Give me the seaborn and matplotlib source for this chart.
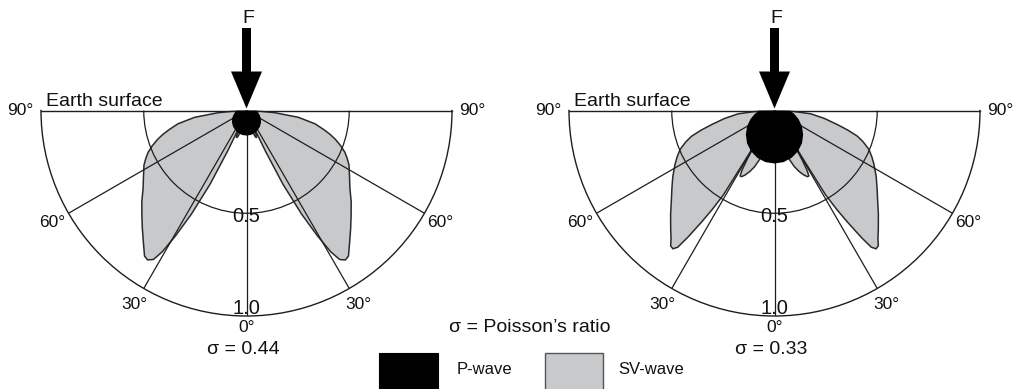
import numpy as np
import matplotlib
matplotlib.use("Agg")
import matplotlib.pyplot as plt
from matplotlib.patches import FancyArrow, Rectangle
import seaborn as sns

# Radiation patterns of a vertical point force on the surface of a half-space.
# Each pattern is given for one side (angle from the downward vertical, degrees)
# and mirrored about 0°. Radii are relative amplitudes (outer arc = 1.0).
theta_sv_044 = [0, 6, 12, 16, 18.5, 20.5, 22, 23, 23.6, 24.2, 25, 26.3, 28, 29.5,
                30.8, 32, 33.5, 35, 38, 41.5, 45, 49, 53, 57, 62, 64.5, 67, 69.5,
                72, 74, 76, 79, 82.5, 85.5, 88, 90]
sv_044 = [0, 0.03, 0.07, 0.11, 0.135, 0.14, 0.12, 0.06, 0.0, 0.12, 0.22, 0.40,
          0.57, 0.70, 0.80, 0.855, 0.872, 0.865, 0.815, 0.765, 0.72, 0.675, 0.63,
          0.598, 0.565, 0.543, 0.52, 0.489, 0.455, 0.424, 0.39, 0.34, 0.255, 0.14,
          0.05, 0.0]

theta_sv_033 = [0, 8, 14, 17, 19.5, 22, 24.5, 26.5, 27.7, 28.6, 29.3, 29.8, 30.1,
                30.4, 31.2, 32.2, 33.2, 34.4, 35.3, 36.3, 37.5, 39, 41, 45, 49, 53,
                57, 61.5, 64.5, 67.6, 70.5, 72.8, 75, 77.4, 81, 84.8, 88, 90]
sv_033 = [0, 0.10, 0.20, 0.25, 0.29, 0.32, 0.345, 0.36, 0.36, 0.33, 0.27, 0.15,
          0.0, 0.25, 0.48, 0.57, 0.65, 0.75, 0.815, 0.835, 0.83, 0.80, 0.77, 0.715,
          0.665, 0.625, 0.59, 0.551, 0.525, 0.497, 0.458, 0.422, 0.37, 0.313, 0.245,
          0.177, 0.08, 0.0]

theta_p = [0, 10, 20, 30, 40, 50, 60, 70, 80, 90]
p_044 = [0.122, 0.121, 0.117, 0.110, 0.102, 0.092, 0.081, 0.069, 0.058, 0.048]
p_033 = [0.258, 0.255, 0.245, 0.229, 0.208, 0.182, 0.154, 0.125, 0.098, 0.075]

sigma_values = [0.44, 0.33]
angle_ticks = [-90, -60, -30, 0, 30, 60, 90]
radius_ticks = [0.5, 1.0]
legend_labels = ["P-wave", "SV-wave"]

SV_FILL = "#c8c9cb"
LINE = "#1e1e1e"

sns.set_theme(style="white")
plt.rcParams["font.family"] = ["Liberation Sans", "DejaVu Sans"]

W, H = 1018, 389
fig = plt.figure(figsize=(W / 100, H / 100), dpi=100)
fig.patch.set_facecolor("white")

R = 205.5        # outer radius in pixels
SURF = 110.5     # pixel row of the surface line
centers = [246.5, 774.5]


def mirrored(theta, r):
    t = np.asarray(theta, float)
    v = np.asarray(r, float)
    full_t = np.concatenate([-t[::-1], t])
    full_r = np.concatenate([v[::-1], v])
    return np.deg2rad(full_t), full_r


def half_polar(cx):
    # a half-wedge polar axes is centred inside a square box, so the box is
    # 2R x 2R with its centre R/2 below the surface line
    top = SURF - R / 2
    ax = fig.add_axes([(cx - R) / W, (H - top - 2 * R) / H, 2 * R / W, 2 * R / H],
                      projection="polar")
    ax.set_theta_zero_location("S")
    ax.set_thetamin(-90)
    ax.set_thetamax(90)
    ax.set_rlim(0, 1)
    ax.set_thetagrids([-60, -30, 0, 30, 60], labels=[""] * 5)
    ax.set_rgrids([0.5], labels=[""])
    ax.grid(True, color=LINE, lw=0.9)
    ax.set_axisbelow(False)
    ax.tick_params(length=0, pad=0)
    ax.set_facecolor("white")
    for sp in ax.spines.values():
        sp.set_color(LINE)
        sp.set_linewidth(1.0)
    return ax


patterns = [(theta_sv_044, sv_044, p_044), (theta_sv_033, sv_033, p_033)]

for cx, sigma, (th_sv, r_sv, r_p) in zip(centers, sigma_values, patterns):
    ax = half_polar(cx)

    # SV-wave lobes
    t, r = mirrored(th_sv, r_sv)
    ax.fill(t, r, color=SV_FILL, lw=0, zorder=1)
    sns.lineplot(x=t, y=r, sort=False, estimator=None, color="#2a2a2a",
                 lw=1.1, ax=ax, zorder=2)

    # P-wave pattern
    tp, rp = mirrored(theta_p, r_p)
    tp = np.concatenate([[tp[0]], tp, [tp[-1]]])
    rp = np.concatenate([[0.0], rp, [0.0]])
    ax.fill(tp, rp, color="black", lw=0, zorder=4)

    ax.set_rlim(0, 1)
    ax.set_xlabel("")
    ax.set_ylabel("")

    # angle labels around the outer arc
    for a in angle_ticks:
        rr = 1.10 if abs(a) == 90 else (1.055 if a == 0 else 1.09)
        ax.text(np.deg2rad(a), rr, f"{abs(a)}°", ha="center", va="center",
                fontsize=12.5, color="#111111", clip_on=False, zorder=6)

    # amplitude labels along the vertical
    for rv, rpos in zip(radius_ticks, [0.518, 0.963]):
        ax.text(0, rpos, f"{rv:.1f}", ha="center", va="center",
                fontsize=14.5, color="#111111", clip_on=False, zorder=6)

# overlay in pixel units for the force arrows, captions and legend
ov = fig.add_axes([0, 0, 1, 1])
ov.set_xlim(0, W)
ov.set_ylim(H, 0)
ov.axis("off")
ov.set_zorder(10)

for cx, sigma in zip(centers, sigma_values):
    ov.add_patch(FancyArrow(cx, 28, 0, 80.5, width=9, head_width=31,
                            head_length=37, length_includes_head=True,
                            color="black", lw=0))
    ov.text(cx + 2, 18, "F", ha="center", va="center", fontsize=14,
            color="#111111")
    ov.text(cx - 200.5, 105.5, "Earth surface", ha="left", va="baseline",
            fontsize=14, color="#111111")
    ov.text(cx - 3, 350, f"σ = {sigma:.2f}", ha="center", va="center",
            fontsize=14, color="#111111")

ov.text(530, 328, "σ = Poisson’s ratio", ha="center", va="center",
        fontsize=14, color="#111111")

ov.add_patch(Rectangle((379, 353), 59, 45, facecolor="black", edgecolor="black",
                       lw=0.8))
ov.add_patch(Rectangle((545, 353), 58, 45, facecolor=SV_FILL, edgecolor="#555555",
                       lw=1.0))
ov.text(457, 370, legend_labels[0], ha="left", va="center", fontsize=12,
        color="#111111")
ov.text(618, 370, legend_labels[1], ha="left", va="center", fontsize=12,
        color="#111111")

fig.savefig("out.png", dpi=100, facecolor="white")
